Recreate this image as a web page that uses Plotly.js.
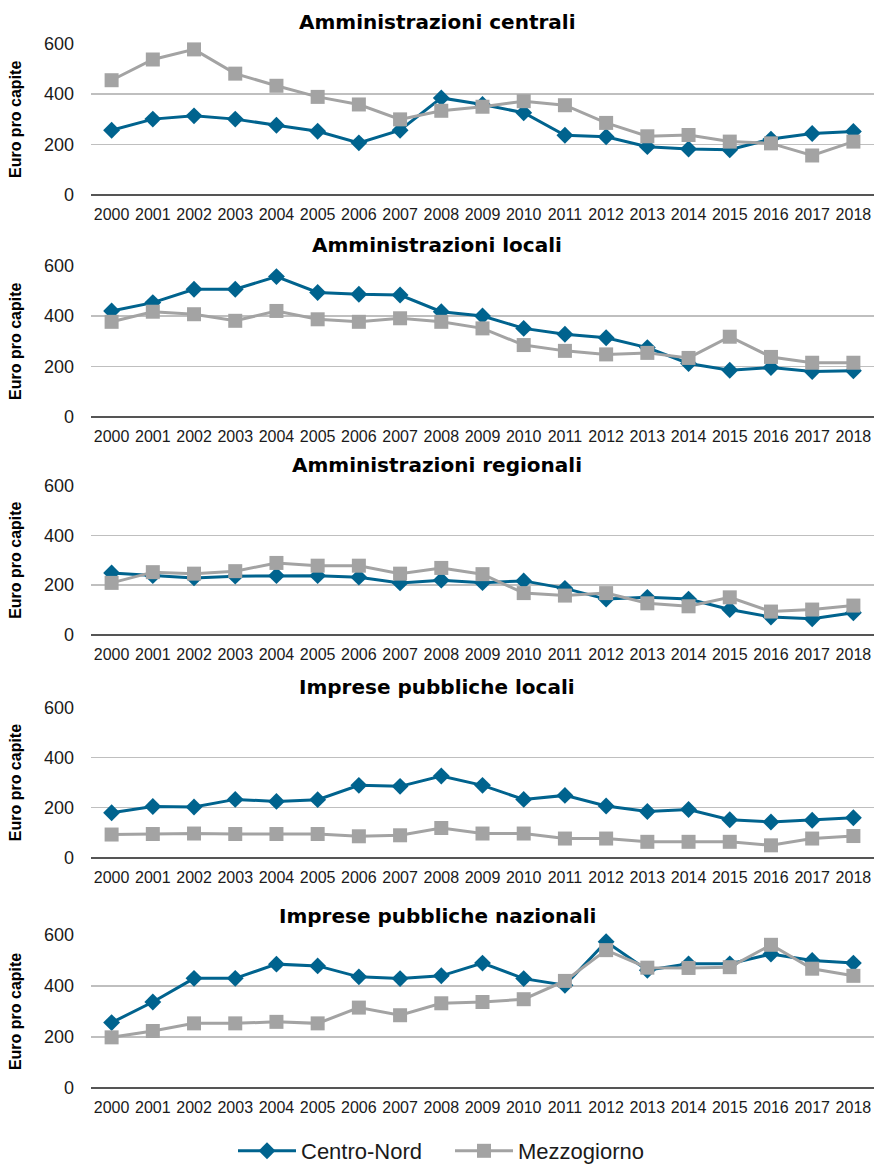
<!DOCTYPE html>
<html>
<head>
<meta charset="utf-8">
<script src="https://cdn.plot.ly/plotly-3.0.1.min.js"></script>
<style>html,body{margin:0;padding:0;background:#fff}#chart{width:874px;height:1172px}</style>
</head>
<body>
<div id="chart"></div>
<script>
const years = ["2000","2001","2002","2003","2004","2005","2006","2007","2008","2009","2010","2011","2012","2013","2014","2015","2016","2017","2018"];
const panelTitles = ["Amministrazioni centrali","Amministrazioni locali","Amministrazioni regionali","Imprese pubbliche locali","Imprese pubbliche nazionali"];
const seriesNames = ["Centro-Nord","Mezzogiorno"];
const yTicks = [0,200,400,600];

const centraliCN = [257,301,314,301,277,253,207,257,385,359,326,237,231,192,183,180,222,244,252];
const centraliMZ = [455,537,577,481,433,389,359,300,334,350,372,356,286,233,238,212,205,157,212];

const localiCN = [420,453,506,506,556,493,486,483,417,400,351,328,314,275,212,185,196,180,183];
const localiMZ = [377,417,407,381,420,387,377,391,377,351,285,262,248,254,234,318,238,215,215];

const regionaliCN = [249,238,229,236,238,238,232,209,220,210,217,187,144,151,144,102,72,65,89];
const regionaliMZ = [209,252,246,256,289,278,278,246,269,244,168,158,168,127,115,151,94,102,118];

const impLocaliCN = [180,205,203,233,225,232,289,285,326,289,233,249,207,185,193,152,143,150,160];
const impLocaliMZ = [93,95,97,95,95,95,86,90,119,97,97,77,77,64,64,64,50,77,87];

const impNazCN = [256,337,430,430,486,479,436,429,440,490,429,403,574,462,487,487,526,500,490];
const impNazMZ = [198,223,253,253,259,253,315,285,332,337,348,420,541,472,471,474,562,468,440];

const panelData = [
  [centraliCN, centraliMZ],
  [localiCN, localiMZ],
  [regionaliCN, regionaliMZ],
  [impLocaliCN, impLocaliMZ],
  [impNazCN, impNazMZ]
];

const H = 1172;
// pixel positions (top = 600 line, bottom = 0 line) and title centre for each panel
const panelPx = [[44,197,22],[268,421,247],[490,641,469],[714,866,694],[944,1098,925]];
const colors = ["#00638e","#a3a3a3"];
const symbols = ["diamond","square"];
const msizes = [13,14];
const legendIds = ["legend","legend2"];

const FONT = "Liberation Sans, Arial, Helvetica, sans-serif";
const TFONT = "DejaVu Sans, Liberation Sans, Arial, sans-serif";
const traces = [];
const legendStyle = (x) => ({orientation: "h", x: x, xanchor: "left", y: 1 - 1162/H, yanchor: "middle",
           font: {size: 22, family: FONT, color: "#1a1a1a"}, itemwidth: 58, bgcolor: "rgba(0,0,0,0)"});
const layout = {
  width: 874, height: 1172,
  margin: {l: 91, r: 0, t: 0, b: 0},
  paper_bgcolor: "#ffffff", plot_bgcolor: "#ffffff",
  font: {family: FONT, color: "#000000", size: 14},
  showlegend: true,
  legend: legendStyle((233 - 91) / 783),
  legend2: legendStyle((450 - 91) / 783),
  annotations: []
};

panelData.forEach((pair, i) => {
  const ax = i === 0 ? "" : String(i + 1);
  pair.forEach((vals, s) => {
    traces.push({
      type: "scatter", mode: "lines+markers",
      x: years, y: vals, name: seriesNames[s],
      xaxis: "x" + ax, yaxis: "y" + ax,
      line: {color: colors[s], width: 3},
      marker: {symbol: symbols[s], size: msizes[s], color: colors[s]},
      cliponaxis: false,
      showlegend: i === 0,
      legend: legendIds[s],
      legendgroup: seriesNames[s]
    });
  });
  const [top, bot, tY] = panelPx[i];
  layout["xaxis" + ax] = {
    domain: [0, 1], anchor: "y" + ax, type: "category",
    tickfont: {size: 16, family: FONT, color: "#1a1a1a"},
    showgrid: false, showline: false, zeroline: false, ticks: "",
    ticklabelstandoff: 8,
    range: [-0.5, years.length - 0.5], fixedrange: true
  };
  layout["yaxis" + ax] = {
    domain: [1 - bot/H, 1 - top/H], anchor: "x" + ax,
    range: [0, 600], tickvals: yTicks, ticktext: yTicks.map(String),
    tickfont: {size: 18, family: FONT, color: "#1a1a1a"},
    showgrid: true, gridcolor: "#bfbfbf", gridwidth: 1.5,
    zeroline: true, zerolinecolor: "#555555", zerolinewidth: 2,
    ticks: "", ticklabelstandoff: 16,
    title: {text: "Euro pro capite", font: {size: 16, family: FONT, color: "#000000", weight: "bold"}, standoff: 18},
    automargin: false
  };
  layout.annotations.push({
    xref: "paper", yref: "paper", x: 0.442, y: 1 - tY/H, xanchor: "center", yanchor: "middle",
    text: "<b>" + panelTitles[i] + "</b>", showarrow: false,
    font: {size: 20, family: TFONT, color: "#000000"}
  });
});

Plotly.newPlot("chart", traces, layout, {displayModeBar: false, staticPlot: true});
</script>
</body>
</html>
